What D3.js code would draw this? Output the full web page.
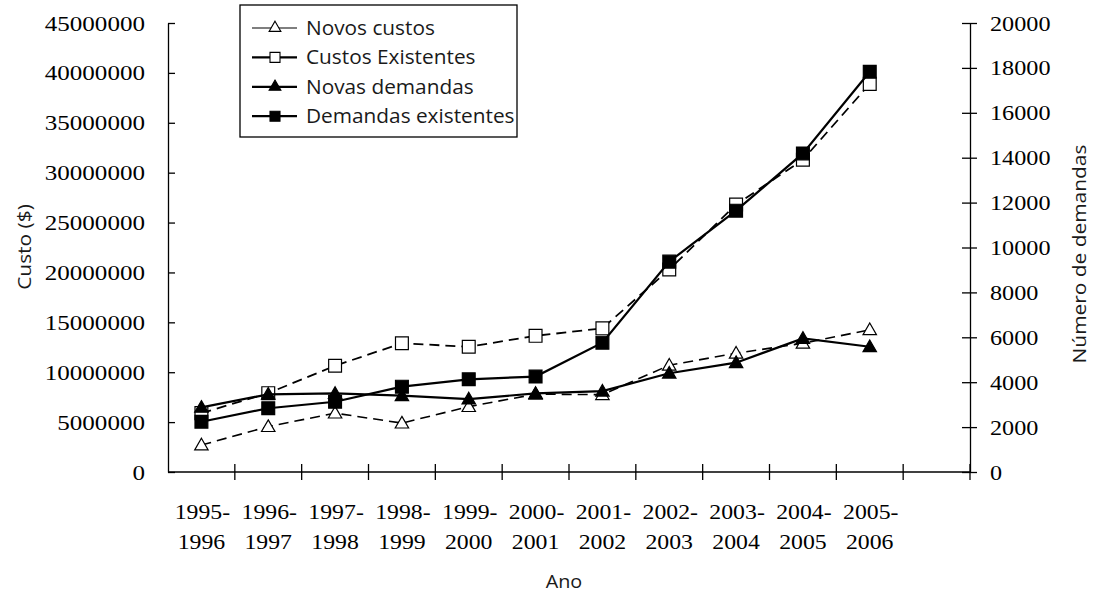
<!DOCTYPE html>
<html>
<head>
<meta charset="utf-8">
<script src="https://cdn.jsdelivr.net/npm/d3@7"></script>
<style>
  html, body { margin: 0; padding: 0; background: #fff; }
  svg { display: block; }
</style>
</head>
<body>
<svg id="chart" width="1096" height="593"></svg>
<script>
// Periods on the x axis (one empty slot is kept at the end)
const periods = ["1995-1996", "1996-1997", "1997-1998", "1998-1999", "1999-2000",
  "2000-2001", "2001-2002", "2002-2003", "2003-2004", "2004-2005", "2005-2006"];

// Costs ($), left axis
const novosCustos = [2700000, 4550000, 5900000, 4900000, 6550000, 7800000,
  7750000, 10700000, 11900000, 12900000, 14250000];
const custosExistentes = [5900000, 7900000, 10650000, 12900000, 12550000, 13650000,
  14400000, 20300000, 26800000, 31300000, 38900000];

// Number of claims, right axis
const novasDemandas = [2880, 3460, 3500, 3400, 3250, 3500, 3600, 4400, 4870, 5950, 5580];
const demandasExistentes = [2240, 2840, 3130, 3800, 4130, 4250, 5760, 9370, 11640, 14190, 17830];

const leftTicks = d3.range(0, 45000001, 5000000);
const rightTicks = d3.range(0, 20001, 2000);

const svg = d3.select("#chart");
const serif = "'Liberation Serif', 'DejaVu Serif', serif";
const sans = "'Open Sans', 'Noto Sans', sans-serif";

// Widen text horizontally by a factor (the typefaces used are slightly wide)
function widen(sel, k) {
  sel.each(function () {
    const w = this.getComputedTextLength();
    d3.select(this).attr("textLength", w * k).attr("lengthAdjust", "spacingAndGlyphs");
  });
}

const x0 = 168, x1 = 970, yTop = 23, yBot = 472;
const slots = periods.concat(["_"]);
const x = d3.scaleBand().domain(slots).range([x0, x1]).padding(0);
const cx = d => x(d) + x.bandwidth() / 2;
const yL = d3.scaleLinear().domain([0, 45000000]).range([yBot, yTop]);
const yR = d3.scaleLinear().domain([0, 20000]).range([yBot, yTop]);

// Left axis
const gL = svg.append("g").attr("transform", `translate(${x0},0)`)
  .call(d3.axisLeft(yL).tickValues(leftTicks).tickFormat(d3.format("d")).tickSizeInner(8).tickSizeOuter(0).tickPadding(15));
gL.selectAll(".tick line").attr("x2", 7);
// Right axis
const gR = svg.append("g").attr("transform", `translate(${x1},0)`)
  .call(d3.axisRight(yR).tickValues(rightTicks).tickFormat(d3.format("d")).tickSizeInner(7).tickSizeOuter(0).tickPadding(13));
gR.selectAll(".tick line").attr("x1", -8);
// Bottom axis: ticks on band boundaries
const gB = svg.append("g").attr("transform", `translate(0,${yBot})`);
gB.append("line").attr("x1", x0).attr("x2", x1).attr("stroke", "#000").attr("stroke-width", 1.3);
gB.selectAll("line.t").data(slots).join("line")
  .attr("class", "t")
  .attr("x1", d => x(d) + x.bandwidth())
  .attr("x2", d => x(d) + x.bandwidth())
  .attr("y1", -8).attr("y2", 8)
  .attr("stroke", "#000").attr("stroke-width", 1.3);

[gL, gR].forEach(g => {
  g.select(".domain").attr("stroke", "#000").attr("stroke-width", 1.3);
  g.selectAll(".tick line").attr("stroke", "#000").attr("stroke-width", 1.3);
  g.selectAll(".tick text").attr("font-family", serif).attr("font-size", 22).attr("fill", "#000");
});
widen(gL.selectAll(".tick text"), 1.14);
widen(gR.selectAll(".tick text"), 1.1);

// Two-line period labels
const lbl = svg.append("g").attr("font-family", serif).attr("font-size", 22).attr("fill", "#000")
  .attr("text-anchor", "middle");
periods.forEach(p => {
  const [a, b] = p.split("-");
  lbl.append("text").attr("x", cx(p) + 1).attr("y", 519).text(a + "-");
  lbl.append("text").attr("x", cx(p)).attr("y", 549).text(b);
});
widen(lbl.selectAll("text"), 1.08);

// Axis titles
const titles = svg.append("g").attr("font-family", sans).attr("fill", "#1a1a1a").attr("text-anchor", "middle");
titles.append("text").attr("transform", "translate(31,247) rotate(-90)")
  .attr("font-size", 19).text("Custo ($)");
titles.append("text").attr("transform", "translate(1086,254) rotate(-90)")
  .attr("font-size", 19).text("Número de demandas");
titles.append("text").attr("x", 564).attr("y", 588)
  .attr("font-size", 18).text("Ano");
widen(titles.selectAll("text"), 1.1);

// Series definitions
const series = [
  { name: "Novos custos", values: novosCustos, y: yL, dash: "10,6", marker: "triangle", fill: "#fff", width: 1.6, legendWidth: 1.2 },
  { name: "Custos Existentes", values: custosExistentes, y: yL, dash: "10,6", marker: "square", fill: "#fff", width: 1.8, legendWidth: 2.2 },
  { name: "Novas demandas", values: novasDemandas, y: yR, dash: null, marker: "triangle", fill: "#000", width: 2.2, legendWidth: 2.2 },
  { name: "Demandas existentes", values: demandasExistentes, y: yR, dash: null, marker: "square", fill: "#000", width: 2.2, legendWidth: 2.2 }
];

const sym = {
  triangle: d3.symbol().type(d3.symbolTriangle).size(78),
  square: d3.symbol().type(d3.symbolSquare).size(165)
};

const plot = svg.append("g");
series.forEach(s => {
  const pts = s.values.map((v, i) => [cx(periods[i]), s.y(v)]);
  plot.append("path")
    .attr("d", d3.line()(pts))
    .attr("fill", "none").attr("stroke", "#000").attr("stroke-width", s.width)
    .attr("stroke-dasharray", s.dash);
  plot.selectAll(null).data(pts).join("path")
    .attr("transform", d => `translate(${d[0]},${d[1] + (s.marker === "triangle" ? 1 : 0)})`)
    .attr("d", sym[s.marker]())
    .attr("fill", s.fill).attr("stroke", "#000").attr("stroke-width", 1.2);
});

// Legend
const lg = svg.append("g");
lg.append("rect").attr("x", 240).attr("y", 5).attr("width", 277).attr("height", 132)
  .attr("fill", "#fff").attr("stroke", "#000").attr("stroke-width", 1.3);
series.forEach((s, i) => {
  const base = 35 + i * 29.4;
  const yy = base - 7;
  lg.append("line").attr("x1", 252).attr("x2", 297).attr("y1", yy).attr("y2", yy)
    .attr("stroke", "#000").attr("stroke-width", s.legendWidth);
  lg.append("path").attr("transform", `translate(275,${yy})`)
    .attr("d", s.marker === "triangle" ? d3.symbol().type(d3.symbolTriangle).size(60)() : d3.symbol().type(d3.symbolSquare).size(100)())
    .attr("fill", s.fill).attr("stroke", "#000").attr("stroke-width", 1.1);
  const t = lg.append("text").attr("x", 306).attr("y", base)
    .attr("font-family", sans).attr("font-size", 20).attr("fill", "#1a1a1a").text(s.name);
  widen(t, 1.04);
});
</script>
</body>
</html>
